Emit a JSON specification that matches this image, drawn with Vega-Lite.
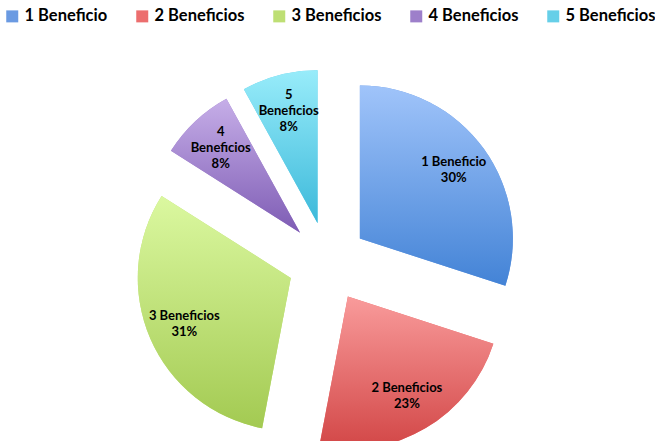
{
  "$schema": "https://vega.github.io/schema/vega-lite/v6.json",
  "width": 655,
  "height": 358,
  "autosize": {"type": "none"},
  "padding": {"left": 0, "right": 0, "top": 83, "bottom": 0},
  "background": "white",
  "config": {"view": {"stroke": null}},
  "data": {
    "values": [
      {"cat": "1 Beneficio", "value": 30, "label": "1 Beneficio\n30%"},
      {"cat": "2 Beneficios", "value": 23, "label": "2 Beneficios\n23%"},
      {"cat": "3 Beneficios", "value": 31, "label": "3 Beneficios\n31%"},
      {"cat": "4 Beneficios", "value": 8, "label": "4\nBeneficios\n8%"},
      {"cat": "5 Beneficios", "value": 8, "label": "5\nBeneficios\n8%"}
    ]
  },
  "transform": [
    {"stack": "value", "groupby": [], "sort": [{"field": "cat", "order": "ascending"}], "as": ["v0", "v1"]}
  ],
  "layer": [
    {
      "mark": {"type": "arc", "outerRadius": 153,
        "xOffset": {"expr": "40*sin((datum.v0+datum.v1)*PI/100)"},
        "yOffset": {"expr": "-40*cos((datum.v0+datum.v1)*PI/100)"}},
      "encoding": {
        "theta": {"field": "v0", "type": "quantitative", "scale": {"domain": [0, 100]}},
        "theta2": {"field": "v1"},
        "color": {
          "field": "cat", "type": "nominal",
          "scale": {"domain": ["1 Beneficio", "2 Beneficios", "3 Beneficios", "4 Beneficios", "5 Beneficios"],
                    "range": ["#6A9AE2", "#EC6E6E", "#BEDF74", "#9D7FCA", "#66CFE8"]},
          "legend": {"title": null, "orient": "none", "legendX": 4, "legendY": -75, "direction": "horizontal",
                     "symbolType": "square", "symbolSize": 144, "symbolStrokeWidth": 0,
                     "labelFont": "Lato", "labelFontSize": 16.5, "labelFontWeight": "bold", "labelColor": "#000000",
                     "labelOffset": 4, "columnPadding": 26}
        }
      }
    },
    {
      "transform": [{"filter": "datum.cat == '1 Beneficio'"}],
      "mark": {"type": "arc", "outerRadius": 153,
        "xOffset": {"expr": "40*sin((datum.v0+datum.v1)*PI/100)"},
        "yOffset": {"expr": "-40*cos((datum.v0+datum.v1)*PI/100)"},
        "fill": {"gradient": "linear", "x1": 0, "y1": 0, "x2": 0, "y2": 1,
                 "stops": [{"offset": 0, "color": "#A0C4FA"}, {"offset": 1, "color": "#4383D6"}]}},
      "encoding": {"theta": {"field": "v0", "type": "quantitative"}, "theta2": {"field": "v1"}}
    },
    {
      "transform": [{"filter": "datum.cat == '2 Beneficios'"}],
      "mark": {"type": "arc", "outerRadius": 153,
        "xOffset": {"expr": "40*sin((datum.v0+datum.v1)*PI/100)"},
        "yOffset": {"expr": "-40*cos((datum.v0+datum.v1)*PI/100)"},
        "fill": {"gradient": "linear", "x1": 0, "y1": 0, "x2": 0, "y2": 1,
                 "stops": [{"offset": 0, "color": "#F99B9B"}, {"offset": 1, "color": "#D24646"}]}},
      "encoding": {"theta": {"field": "v0", "type": "quantitative"}, "theta2": {"field": "v1"}}
    },
    {
      "transform": [{"filter": "datum.cat == '3 Beneficios'"}],
      "mark": {"type": "arc", "outerRadius": 153,
        "xOffset": {"expr": "40*sin((datum.v0+datum.v1)*PI/100)"},
        "yOffset": {"expr": "-40*cos((datum.v0+datum.v1)*PI/100)"},
        "fill": {"gradient": "linear", "x1": 0, "y1": 0, "x2": 0, "y2": 1,
                 "stops": [{"offset": 0, "color": "#DBF8A0"}, {"offset": 1, "color": "#A3CA52"}]}},
      "encoding": {"theta": {"field": "v0", "type": "quantitative"}, "theta2": {"field": "v1"}}
    },
    {
      "transform": [{"filter": "datum.cat == '4 Beneficios'"}],
      "mark": {"type": "arc", "outerRadius": 153,
        "xOffset": {"expr": "40*sin((datum.v0+datum.v1)*PI/100)"},
        "yOffset": {"expr": "-40*cos((datum.v0+datum.v1)*PI/100)"},
        "fill": {"gradient": "linear", "x1": 0, "y1": 0, "x2": 0, "y2": 1,
                 "stops": [{"offset": 0, "color": "#C6AEE8"}, {"offset": 1, "color": "#7E5CB4"}]}},
      "encoding": {"theta": {"field": "v0", "type": "quantitative"}, "theta2": {"field": "v1"}}
    },
    {
      "transform": [{"filter": "datum.cat == '5 Beneficios'"}],
      "mark": {"type": "arc", "outerRadius": 153,
        "xOffset": {"expr": "40*sin((datum.v0+datum.v1)*PI/100)"},
        "yOffset": {"expr": "-40*cos((datum.v0+datum.v1)*PI/100)"},
        "fill": {"gradient": "linear", "x1": 0, "y1": 0, "x2": 0, "y2": 1,
                 "stops": [{"offset": 0, "color": "#98ECFA"}, {"offset": 1, "color": "#3CB9DA"}]}},
      "encoding": {"theta": {"field": "v0", "type": "quantitative"}, "theta2": {"field": "v1"}}
    },
    {
      "mark": {"type": "text", "radius": 116, "font": "Lato", "fontSize": 13, "fontWeight": "bold",
        "color": "#000000", "lineBreak": "\n", "lineHeight": 16, "align": "center", "baseline": "middle",
        "xOffset": {"expr": "40*sin((datum.v0+datum.v1)*PI/100)"},
        "yOffset": {"expr": "-40*cos((datum.v0+datum.v1)*PI/100) - (length(split(datum.label, '\\n')) - 1)*8"}},
      "encoding": {
        "theta": {"field": "value", "type": "quantitative", "stack": true},
        "order": {"field": "cat", "type": "ordinal"},
        "text": {"field": "label"}
      }
    }
  ]
}
